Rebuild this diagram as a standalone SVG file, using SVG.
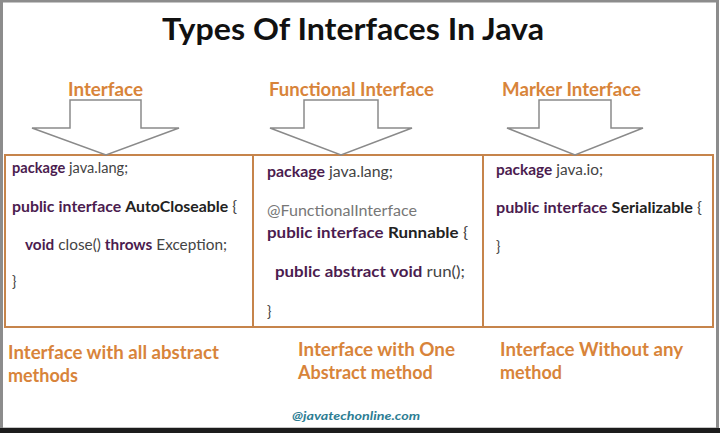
<svg xmlns="http://www.w3.org/2000/svg" width="720" height="433" viewBox="0 0 720 433">
<defs>
<style>
.title{font-family:Lato,"Open Sans","Liberation Sans",sans-serif;font-weight:700;font-size:30px;fill:#111}
.lbl{font-family:Lato,"Open Sans","Liberation Sans",sans-serif;font-weight:700;font-size:18px;fill:#d8843a}
.code{font-family:Lato,"Open Sans","Liberation Sans",sans-serif;font-size:14.5px;fill:#444}
.kw{font-weight:700;fill:#4b1c4f}
.id{font-weight:700;fill:#222}
.ann{fill:#777}
.box{fill:#fff;stroke:#c6844b;stroke-width:2}
.arrow{fill:#fff;stroke:#8a8a8a;stroke-width:1.5;stroke-linejoin:miter}
.web{font-family:Lato,"Open Sans","Liberation Sans",sans-serif;font-weight:700;font-style:italic;font-size:12px;fill:#2d7d93}
</style>
</defs>
<rect x="0" y="0" width="720" height="433" fill="#fff"/>
<rect x="1.5" y="1" width="716" height="428" fill="none" stroke="#8c8c8c" stroke-width="3"/>
<rect x="0" y="428" width="720" height="5" fill="#1c1c1c"/>

<g id="title"><text class="title" x="353" y="40" text-anchor="middle" textLength="382" lengthAdjust="spacingAndGlyphs">Types Of Interfaces In Java</text></g>

<g id="label-interface"><text class="lbl" x="68" y="96" textLength="75" lengthAdjust="spacingAndGlyphs">Interface</text></g>
<g id="label-functional"><text class="lbl" x="269" y="96" textLength="165" lengthAdjust="spacingAndGlyphs">Functional Interface</text></g>
<g id="label-marker"><text class="lbl" x="502" y="96" textLength="139" lengthAdjust="spacingAndGlyphs">Marker Interface</text></g>

<g id="box-interface">
<rect class="box" x="5" y="155" width="248" height="172"/>
<text class="code" x="12" y="173" textLength="116" lengthAdjust="spacingAndGlyphs"><tspan class="kw">package</tspan> java.lang;</text>
<text class="code" x="12" y="212" textLength="225" lengthAdjust="spacingAndGlyphs"><tspan class="kw">public</tspan>  <tspan class="kw">interface</tspan>  <tspan class="id">AutoCloseable</tspan> {</text>
<text class="code" x="25" y="250" textLength="202" lengthAdjust="spacingAndGlyphs"><tspan class="kw">void</tspan> close() <tspan class="kw">throws</tspan> Exception;</text>
<text class="code" x="12" y="287">}</text>
</g>

<g id="box-functional">
<rect class="box" x="253" y="155" width="230" height="172"/>
<text class="code" x="267" y="177" textLength="126" lengthAdjust="spacingAndGlyphs"><tspan class="kw">package</tspan> java.lang;</text>
<text class="code ann" x="267" y="216" textLength="150" lengthAdjust="spacingAndGlyphs">@FunctionalInterface</text>
<text class="code" x="267" y="238" textLength="201" lengthAdjust="spacingAndGlyphs"><tspan class="kw">public</tspan>  <tspan class="kw">interface</tspan>  <tspan class="id">Runnable</tspan> {</text>
<text class="code" x="275" y="277" textLength="190" lengthAdjust="spacingAndGlyphs"><tspan class="kw">public</tspan>  <tspan class="kw">abstract</tspan>  <tspan class="kw">void</tspan>  run();</text>
<text class="code" x="267" y="317">}</text>
</g>

<g id="box-marker">
<rect class="box" x="483" y="155" width="230" height="172"/>
<text class="code" x="496" y="175" textLength="107" lengthAdjust="spacingAndGlyphs"><tspan class="kw">package</tspan> java.io;</text>
<text class="code" x="496" y="213" textLength="206" lengthAdjust="spacingAndGlyphs"><tspan class="kw">public</tspan>  <tspan class="kw">interface</tspan>  <tspan class="id">Serializable</tspan> {</text>
<text class="code" x="496" y="252">}</text>
</g>

<g id="connectors">
<path class="arrow" d="M70,100 H141 V128 H179 L106,155 L32,128 H70 Z"/>
<path class="arrow" d="M304,100 H378 V128 H412 L341,155 L270,128 H304 Z"/>
<path class="arrow" d="M539,100 H611 V128 H643 L575,155 L507,128 H539 Z"/>
</g>

<g id="desc-interface"><text class="lbl" x="8" y="359" font-size="17" textLength="211" lengthAdjust="spacingAndGlyphs">Interface with all abstract</text><text class="lbl" x="8" y="382" font-size="17">methods</text></g>
<g id="desc-functional"><text class="lbl" x="298" y="356" font-size="17" textLength="157" lengthAdjust="spacingAndGlyphs">Interface with One</text><text class="lbl" x="298" y="379" font-size="17">Abstract method</text></g>
<g id="desc-marker"><text class="lbl" x="500" y="356" font-size="17" textLength="183" lengthAdjust="spacingAndGlyphs">Interface Without any</text><text class="lbl" x="500" y="379" font-size="17">method</text></g>

<g id="footer"><text class="web" x="292" y="420" textLength="128" lengthAdjust="spacingAndGlyphs">@javatechonline.com</text></g>
</svg>
